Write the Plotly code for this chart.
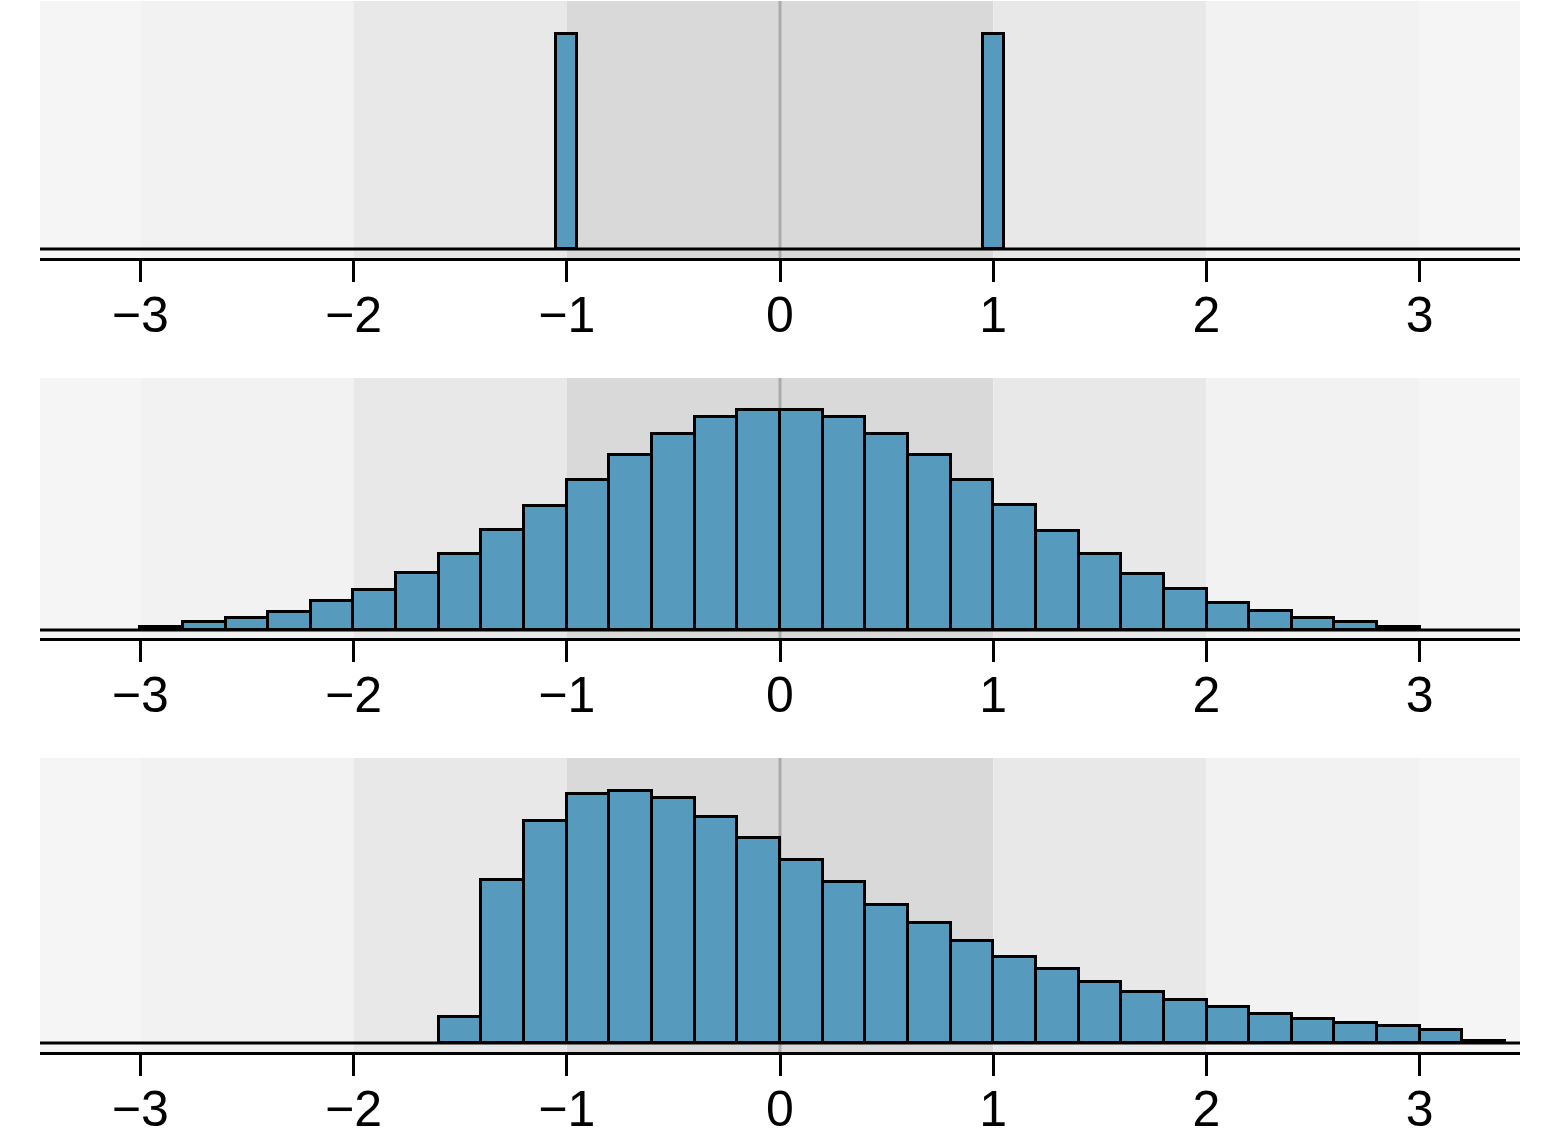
import plotly.graph_objects as go

# ---- data ----
tick_vals = [-3, -2, -1, 0, 1, 2, 3]
tick_text = ["\u22123", "\u22122", "\u22121", "0", "1", "2", "3"]

top_x = [-1.0, 1.0]
top_h = [216, 216]

mid_x = [-2.9, -2.7, -2.5, -2.3, -2.1, -1.9, -1.7, -1.5, -1.3, -1.1,
         -0.9, -0.7, -0.5, -0.3, -0.1, 0.1, 0.3, 0.5, 0.7, 0.9,
         1.1, 1.3, 1.5, 1.7, 1.9, 2.1, 2.3, 2.5, 2.7, 2.9]
mid_h = [3, 8, 12, 18, 29, 40, 57, 76, 100, 124,
         150, 175, 196, 213, 220, 220, 213, 196, 175, 150,
         125, 99, 76, 56, 41, 27, 19, 12, 8, 3]

bot_x = [-1.5, -1.3, -1.1, -0.9, -0.7, -0.5, -0.3, -0.1, 0.1, 0.3,
         0.5, 0.7, 0.9, 1.1, 1.3, 1.5, 1.7, 1.9, 2.1, 2.3,
         2.5, 2.7, 2.9, 3.1, 3.3]
bot_h = [26, 163, 222, 249, 252, 245, 226, 205, 183, 161,
         138, 120, 102, 86, 74, 61, 51, 43, 36, 29,
         24, 20, 17, 13, 2]

band_edges = [-3.47, -3, -2, -1, 1, 2, 3, 3.47]
band_colors = ["#f5f5f5", "#f2f2f2", "#e8e8e8", "#d9d9d9", "#e8e8e8", "#f2f2f2", "#f5f5f5"]

BAR_COLOR = "#569BBD"
XR = [-3.47, 3.47]

panels = [
    (top_x, top_h, 0.1, [-9, 249], [0.7548, 0.999]),
    (mid_x, mid_h, 0.2, [-8, 252], [0.3935, 0.6407]),
    (bot_x, bot_h, 0.2, [-9, 285], [0.0, 0.2795]),
]

fig = go.Figure()
shapes = []
layout = {}
for i, (xs, hs, w, yr, dom) in enumerate(panels, start=1):
    sx = "" if i == 1 else str(i)
    xref = "x" + sx
    yref = "y" + sx
    fig.add_trace(go.Bar(
        x=xs, y=hs, width=w, xaxis=xref, yaxis=yref,
        marker=dict(color=BAR_COLOR, line=dict(color="black", width=3)),
        showlegend=False, hoverinfo="skip",
    ))
    for j, c in enumerate(band_colors):
        shapes.append(dict(type="rect", xref=xref, yref=yref + " domain",
                           x0=band_edges[j], x1=band_edges[j + 1], y0=0, y1=1,
                           fillcolor=c, line=dict(width=0), layer="below"))
    shapes.append(dict(type="line", xref=xref, yref=yref + " domain",
                       x0=0, x1=0, y0=0, y1=1,
                       line=dict(color="#ababab", width=3), layer="below"))
    shapes.append(dict(type="line", xref=xref + " domain", yref=yref,
                       x0=0, x1=1, y0=0, y1=0,
                       line=dict(color="black", width=3), layer="above"))
    layout["xaxis" + sx] = dict(
        range=XR, anchor=yref, tickvals=tick_vals, ticktext=tick_text,
        ticks="outside", ticklen=21, tickwidth=2.5, tickcolor="black",
        showline=True, linecolor="black", linewidth=3,
        showgrid=False, zeroline=False, fixedrange=True, automargin=False,
        ticklabelstandoff=-10,
        tickfont=dict(family="Liberation Sans, Arial, sans-serif", size=50, color="black"),
    )
    layout["yaxis" + sx] = dict(
        range=yr, domain=dom, anchor=xref, visible=False,
        showgrid=False, zeroline=False, fixedrange=True, automargin=False,
    )

fig.update_layout(
    width=1558, height=1138,
    margin=dict(l=40, r=38, t=0, b=86),
    paper_bgcolor="white", plot_bgcolor="white",
    bargap=0, shapes=shapes,
    **layout,
)

fig.write_html("out.html")
